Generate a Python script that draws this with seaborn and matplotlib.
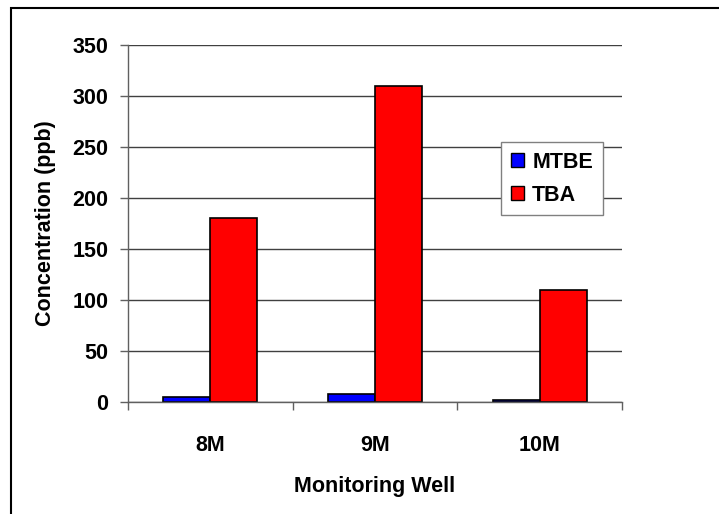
import matplotlib
matplotlib.use("Agg")
import matplotlib.pyplot as plt
import seaborn as sns
import pandas as pd
from matplotlib.patches import Rectangle
from matplotlib.ticker import FixedLocator

wells = ["8M", "9M", "10M"]
mtbe = [4.5, 8, 1.5]
tba = [180, 310, 110]
series = ["MTBE", "TBA"]
colors = {"MTBE": "#0000FF", "TBA": "#FF0000"}
y_ticks = [0, 50, 100, 150, 200, 250, 300, 350]

df = pd.DataFrame({
    "Monitoring Well": wells * 2,
    "Concentration (ppb)": mtbe + tba,
    "Compound": [series[0]] * len(wells) + [series[1]] * len(wells),
})

sns.set_style("white")
plt.rcParams["font.family"] = ["Liberation Sans", "DejaVu Sans"]
plt.rcParams["font.weight"] = "bold"
plt.rcParams["text.color"] = "black"
plt.rcParams["axes.labelcolor"] = "black"

fig = plt.figure(figsize=(7.19, 5.14), dpi=100)
ax = fig.add_axes([128/719, 1-402/514, (622-128)/719, (402-45)/514])

sns.barplot(data=df, x="Monitoring Well", y="Concentration (ppb)", hue="Compound",
            palette=colors, order=wells, hue_order=series, width=0.572,
            edgecolor="black", linewidth=1.2, ax=ax, saturation=1, legend=True)

ax.set_ylim(0, 350)
ax.set_xlim(-0.5, 2.5)
ax.set_yticks(y_ticks)
ax.yaxis.grid(True, color="#404040", linewidth=1.0)
ax.set_axisbelow(True)
for s in ["top", "right"]:
    ax.spines[s].set_visible(False)
for s in ["left", "bottom"]:
    ax.spines[s].set_color("#606060")
    ax.spines[s].set_linewidth(1.0)

ax.tick_params(axis="y", which="major", length=6, width=1, color="#606060",
               direction="out", pad=8, labelsize=15.5, left=True, labelcolor="black")
ax.tick_params(axis="x", which="major", length=0, pad=24, labelsize=15.5,
               labelcolor="black")
ax.xaxis.set_minor_locator(FixedLocator([-0.5, 0.5, 1.5, 2.5]))
ax.tick_params(axis="x", which="minor", length=6, width=1, color="#606060",
               direction="out", bottom=True)
for lbl in ax.get_xticklabels() + ax.get_yticklabels():
    lbl.set_fontweight("bold")

ax.set_xlabel("Monitoring Well", fontsize=15.5, fontweight="bold", labelpad=14,
              color="black")
ax.set_ylabel("Concentration (ppb)", fontsize=15.5, fontweight="bold", labelpad=12,
              color="black")

leg = ax.legend(loc="upper left", bbox_to_anchor=(0.755, 0.728), frameon=True,
                fancybox=False, edgecolor="#808080", framealpha=1,
                prop={"weight": "bold", "size": 15.5}, handlelength=0.6,
                handleheight=0.6, handletextpad=0.4, borderpad=0.45,
                labelspacing=0.55, borderaxespad=0)
leg.get_frame().set_linewidth(1.0)
for t in leg.get_texts():
    t.set_fontweight("bold")
    t.set_fontsize(15.5)
    t.set_color("black")
for h in leg.legend_handles:
    h.set_edgecolor("black")
    h.set_linewidth(1.0)

frame = Rectangle((11/719, -0.1), 1.2, 1.1 - 8/514, transform=fig.transFigure,
                  fill=False, edgecolor="black", linewidth=1.5, clip_on=False)
fig.patches.append(frame)

fig.savefig("out.png", dpi=100)
